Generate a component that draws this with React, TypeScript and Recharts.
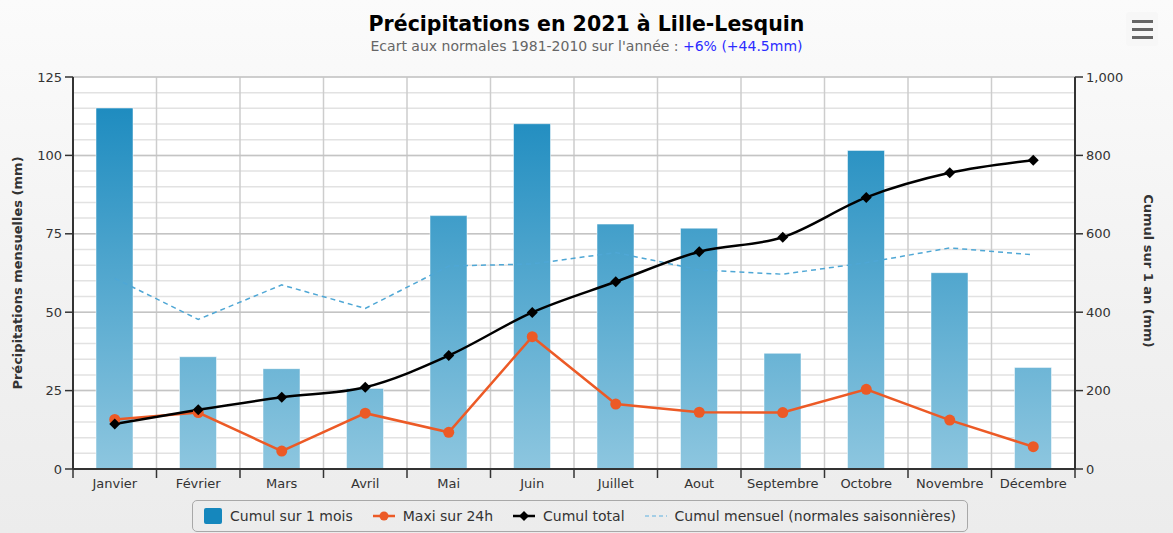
import React from "react";
import {
  ComposedChart,
  Bar,
  Line,
  XAxis,
  YAxis,
  CartesianGrid,
} from "recharts";

const months = [
  "Janvier",
  "Février",
  "Mars",
  "Avril",
  "Mai",
  "Juin",
  "Juillet",
  "Aout",
  "Septembre",
  "Octobre",
  "Novembre",
  "Décembre",
];

// cumul sur 1 mois (mm)
const cumulMois = [115.1, 35.8, 32.0, 25.7, 80.8, 110.1, 78.1, 76.8, 36.9, 101.6, 62.6, 32.4];
// maxi sur 24h (mm)
const maxi24h = [15.8, 18.0, 5.7, 17.8, 11.7, 42.2, 20.7, 18.1, 18.0, 25.4, 15.6, 7.1];
// cumul total (mm, axe de droite)
const cumulTotal = [115.1, 150.9, 182.9, 208.6, 289.4, 399.5, 477.6, 554.4, 591.3, 692.9, 755.5, 787.9];
// normales saisonnieres 1981-2010 (mm)
const normales = [60.8, 47.7, 58.7, 51.2, 64.7, 65.4, 69.0, 63.5, 62.1, 65.8, 70.5, 68.3];

const leftTicks = [0, 25, 50, 75, 100, 125];
const rightTicks = [0, 200, 400, 600, 800, 1000];
const minorTicks = [
  0, 5, 10, 15, 20, 25, 30, 35, 40, 45, 50, 55, 60, 65, 70, 75, 80, 85, 90, 95,
  100, 105, 110, 115, 120, 125,
];
const boundaryTicks = [-0.5, 0.5, 1.5, 2.5, 3.5, 4.5, 5.5, 6.5, 7.5, 8.5, 9.5, 10.5, 11.5];
const xTicks = [
  -0.5, 0, 0.5, 1, 1.5, 2, 2.5, 3, 3.5, 4, 4.5, 5, 5.5, 6, 6.5, 7, 7.5, 8, 8.5,
  9, 9.5, 10, 10.5, 11, 11.5,
];

const data = months.map((m, i) => ({
  idx: i,
  mois: m,
  cumul: cumulMois[i],
  maxi: maxi24h[i],
  total: cumulTotal[i],
  normale: normales[i],
}));

const FONT = "'DejaVu Sans', Verdana, sans-serif";

function MonthTick(props: any) {
  const { x, y, payload } = props;
  const v = payload.value;
  if (Number.isInteger(v)) {
    return (
      <text
        x={x}
        y={y + 19}
        textAnchor="middle"
        fontSize={13}
        fontFamily={FONT}
        fill="#333"
      >
        {months[v]}
      </text>
    );
  }
  return <line x1={x} x2={x} y1={y} y2={y + 9} stroke="#333" strokeWidth={1.5} />;
}

function Diamond(props: any) {
  const { cx, cy } = props;
  if (cx == null || cy == null) return null;
  const s = 5.5;
  return (
    <path
      d={`M${cx},${cy - s}L${cx + s},${cy}L${cx},${cy + s}L${cx - s},${cy}Z`}
      fill="#000"
    />
  );
}

function LegendItem(props: { marker: React.ReactNode; label: string; last?: boolean }) {
  return (
    <div style={{ display: "flex", alignItems: "center", marginRight: props.last ? 0 : 20 }}>
      {props.marker}
      <span style={{ marginLeft: 8 }}>{props.label}</span>
    </div>
  );
}

export default function App() {
  return (
    <div
      style={{
        position: "absolute",
        left: 0,
        top: 0,
        width: 1173,
        height: 533,
        background: "linear-gradient(to bottom, #fbfbfb 0%, #f1f1f1 60%, #ececec 100%)",
        fontFamily: FONT,
        overflow: "hidden",
      }}
    >
      <div
        style={{
          position: "absolute",
          top: 12,
          left: 0,
          width: 1173,
          textAlign: "center",
          fontSize: 20.5,
          fontWeight: "bold",
          color: "#000",
        }}
      >
        Précipitations en 2021 à Lille-Lesquin
      </div>
      <div
        style={{
          position: "absolute",
          top: 38,
          left: 0,
          width: 1173,
          textAlign: "center",
          fontSize: 14,
          color: "#666",
        }}
      >
        Ecart aux normales 1981-2010 sur l'année :{" "}
        <span style={{ color: "#2b2bff" }}>+6% (+44.5mm)</span>
      </div>

      {/* menu button */}
      <div
        style={{
          position: "absolute",
          left: 1126,
          top: 12,
          width: 32,
          height: 34,
          borderRadius: 3,
          background: "#f7f7f7",
        }}
      >
        {[8, 16, 24].map((t) => (
          <div
            key={t}
            style={{
              position: "absolute",
              left: 6,
              top: t,
              width: 21,
              height: 3,
              background: "#666",
            }}
          />
        ))}
      </div>

      <div style={{ position: "absolute", left: 0, top: 0 }}>
        <ComposedChart
          width={1173}
          height={533}
          data={data}
          margin={{ top: 77, right: 0, bottom: 0, left: 0 }}
        >
          <defs>
            <linearGradient
              id="barGrad"
              gradientUnits="userSpaceOnUse"
              x1="0"
              y1="77"
              x2="0"
              y2="469"
            >
              <stop offset="0%" stopColor="#1587bd" />
              <stop offset="100%" stopColor="#8dc6df" />
            </linearGradient>
          </defs>

          <XAxis
            xAxisId="m"
            type="number"
            dataKey="idx"
            domain={[-0.5, 11.5]}
            ticks={xTicks}
            interval={0}
            height={64}
            tickSize={0}
            tickMargin={0}
            tickLine={false}
            tick={<MonthTick />}
            axisLine={{ stroke: "#333", strokeWidth: 2 }}
          />
          <YAxis
            yAxisId="l"
            orientation="left"
            width={73}
            domain={[0, 125]}
            ticks={leftTicks}
            interval={0}
            tickSize={8}
            tickMargin={3}
            tick={{ fill: "#333", fontSize: 13, fontFamily: FONT }}
            tickLine={{ stroke: "#333", strokeWidth: 1.5 }}
            axisLine={{ stroke: "#333", strokeWidth: 2 }}
          />
          <YAxis
            yAxisId="r"
            orientation="right"
            width={98}
            domain={[0, 1000]}
            ticks={rightTicks}
            interval={0}
            tickSize={8}
            tickMargin={3}
            tickFormatter={(v: number) => v.toLocaleString("en-US")}
            tick={{ fill: "#333", fontSize: 13, fontFamily: FONT }}
            tickLine={{ stroke: "#333", strokeWidth: 1.5 }}
            axisLine={{ stroke: "#333", strokeWidth: 2 }}
          />

          <CartesianGrid
            xAxisId="m"
            yAxisId="l"
            vertical={false}
            horizontalValues={minorTicks}
            stroke="#e2e2e2"
            strokeWidth={1.5}
            fill="#ffffff"
          />
          <CartesianGrid
            xAxisId="m"
            yAxisId="l"
            horizontal={false}
            verticalValues={boundaryTicks}
            stroke="#cdcdcd"
            strokeWidth={1.5}
          />
          <CartesianGrid
            xAxisId="m"
            yAxisId="l"
            vertical={false}
            horizontalValues={leftTicks}
            stroke="#c4c4c4"
            strokeWidth={1.5}
          />

          <Bar
            xAxisId="m"
            yAxisId="l"
            dataKey="cumul"
            barSize={37}
            fill="url(#barGrad)"
            stroke="#ffffff"
            strokeOpacity={0.5}
            strokeWidth={1}
            isAnimationActive={false}
          />
          <Line
            xAxisId="m"
            yAxisId="l"
            type="linear"
            dataKey="normale"
            stroke="#4fa7d5"
            strokeWidth={1.5}
            strokeDasharray="5 4"
            dot={false}
            isAnimationActive={false}
          />
          <Line
            xAxisId="m"
            yAxisId="l"
            type="linear"
            dataKey="maxi"
            stroke="#ec5a26"
            strokeWidth={2.5}
            dot={{ r: 5.5, fill: "#ec5a26", stroke: "none" }}
            isAnimationActive={false}
          />
          <Line
            xAxisId="m"
            yAxisId="r"
            type="monotone"
            dataKey="total"
            stroke="#000"
            strokeWidth={2.5}
            dot={<Diamond />}
            isAnimationActive={false}
          />
        </ComposedChart>
      </div>

      {/* axis titles */}
      <div
        style={{
          position: "absolute",
          left: 17,
          top: 273,
          transform: "translate(-50%, -50%) rotate(-90deg)",
          whiteSpace: "nowrap",
          fontSize: 13,
          fontWeight: "bold",
          color: "#333",
        }}
      >
        Précipitations mensuelles (mm)
      </div>
      <div
        style={{
          position: "absolute",
          left: 1148,
          top: 271,
          transform: "translate(-50%, -50%) rotate(90deg)",
          whiteSpace: "nowrap",
          fontSize: 13,
          fontWeight: "bold",
          color: "#333",
        }}
      >
        Cumul sur 1 an (mm)
      </div>

      {/* legend */}
      <div
        style={{
          position: "absolute",
          left: 192,
          top: 500,
          width: 774,
          height: 30,
          border: "1px solid #a8a8a8",
          borderRadius: 5,
          display: "flex",
          alignItems: "center",
          justifyContent: "center",
          fontSize: 14,
          color: "#333",
        }}
      >
        <LegendItem
          label="Cumul sur 1 mois"
          marker={
            <div style={{ width: 18, height: 16, background: "#1587bd", borderRadius: 2 }} />
          }
        />
        <LegendItem
          label="Maxi sur 24h"
          marker={
            <svg width={22} height={12}>
              <line x1={0} x2={22} y1={6} y2={6} stroke="#ec5a26" strokeWidth={2.5} />
              <circle cx={11} cy={6} r={4.5} fill="#ec5a26" />
            </svg>
          }
        />
        <LegendItem
          label="Cumul total"
          marker={
            <svg width={22} height={12}>
              <line x1={0} x2={22} y1={6} y2={6} stroke="#000" strokeWidth={2.5} />
              <path d="M11,1L16,6L11,11L6,6Z" fill="#000" />
            </svg>
          }
        />
        <LegendItem
          last
          label="Cumul mensuel (normales saisonnières)"
          marker={
            <svg width={22} height={12}>
              <line
                x1={0}
                x2={22}
                y1={6}
                y2={6}
                stroke="#8cc3e3"
                strokeWidth={1.5}
                strokeDasharray="4 3"
              />
            </svg>
          }
        />
      </div>
    </div>
  );
}
